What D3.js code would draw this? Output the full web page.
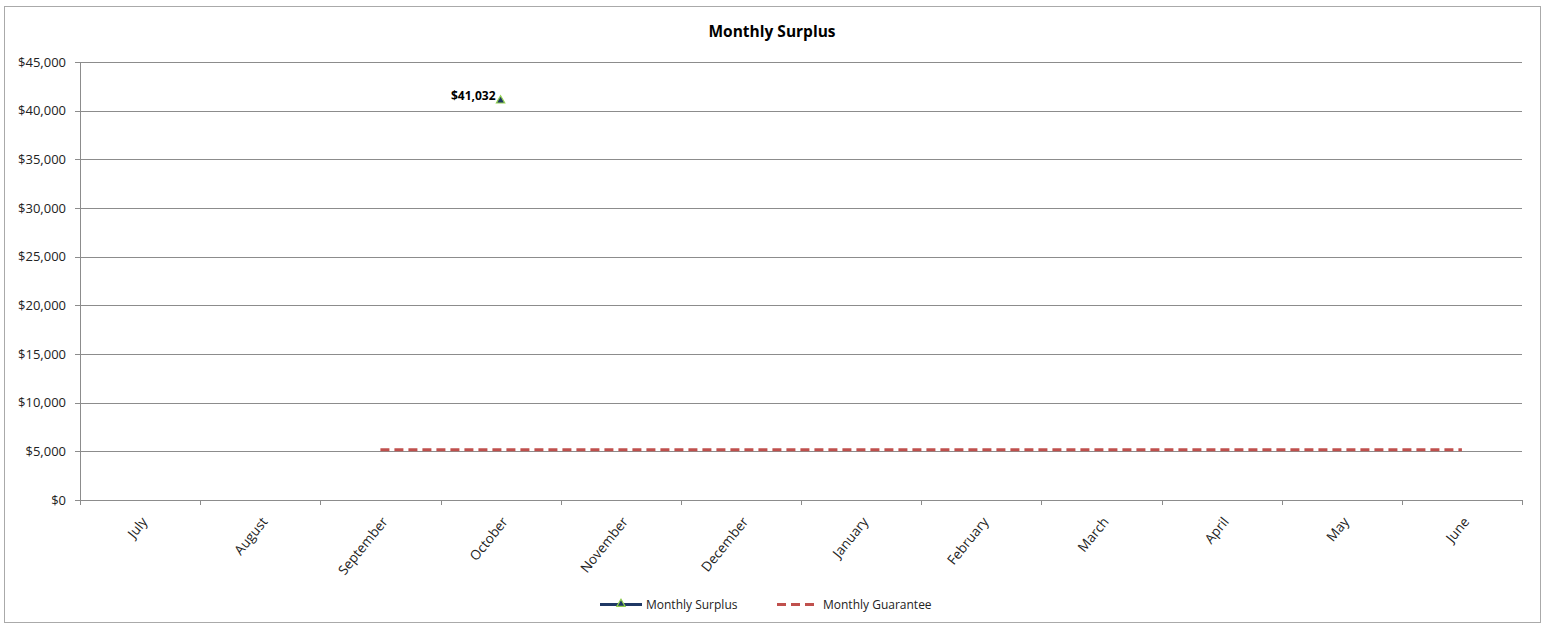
<!DOCTYPE html>
<html>
<head>
<meta charset="utf-8">
<script src="https://cdn.jsdelivr.net/npm/d3@7"></script>
<style>
  body { margin: 0; background: #fff; }
  text { font-family: "Open Sans", "Liberation Sans", sans-serif; }
</style>
</head>
<body>
<svg id="chart" width="1547" height="625"></svg>
<script>
// chart data
const months = ["July", "August", "September", "October", "November", "December",
  "January", "February", "March", "April", "May", "June"];
const surplus = [null, null, null, 41032, null, null, null, null, null, null, null, null];
const guarantee = [null, null, 5150, 5150, 5150, 5150, 5150, 5150, 5150, 5150, 5150, 5150];
const yTicks = [0, 5000, 10000, 15000, 20000, 25000, 30000, 35000, 40000, 45000];

const svg = d3.select("#chart");
const margin = {left: 80, right: 25, top: 62, bottom: 125};
const W = 1547, H = 625;

// outer border
svg.append("rect")
  .attr("x", 4.5).attr("y", 6.5).attr("width", 1536).attr("height", 616)
  .attr("fill", "none").attr("stroke", "#aaa").attr("stroke-width", 1);

svg.append("text")
  .attr("x", 772).attr("y", 37)
  .attr("text-anchor", "middle")
  .attr("font-size", 15.5).attr("font-weight", "bold")
  .text("Monthly Surplus");

const x = d3.scaleBand().domain(months)
  .range([margin.left, W - margin.right]);
const y = d3.scaleLinear().domain([0, 45000])
  .range([H - margin.bottom, margin.top]);

const fmt = d3.format("$,");

// gridlines
svg.append("g").selectAll("line")
  .data(yTicks)
  .join("line")
  .attr("x1", margin.left - 5).attr("x2", W - margin.right)
  .attr("y1", d => Math.round(y(d)) + 0.5).attr("y2", d => Math.round(y(d)) + 0.5)
  .attr("stroke", "#8c8c8c").attr("stroke-width", 1);

// y labels
svg.append("g").selectAll("text")
  .data(yTicks)
  .join("text")
  .attr("x", margin.left - 14)
  .attr("y", d => y(d) + 4.5)
  .attr("text-anchor", "end")
  .attr("font-size", 13)
  .attr("fill", "#222")
  .text(d => fmt(d));

// y axis line
svg.append("line")
  .attr("x1", margin.left + 0.5).attr("x2", margin.left + 0.5)
  .attr("y1", margin.top).attr("y2", H - margin.bottom)
  .attr("stroke", "#8c8c8c");

// x tick marks (between categories)
const xt = months.map(m => x(m)).concat([W - margin.right]);
svg.append("g").selectAll("line")
  .data(xt)
  .join("line")
  .attr("x1", d => Math.round(d) + 0.5).attr("x2", d => Math.round(d) + 0.5)
  .attr("y1", H - margin.bottom).attr("y2", H - margin.bottom + 5)
  .attr("stroke", "#8c8c8c");

// x labels
svg.append("g").selectAll("text")
  .data(months)
  .join("text")
  .attr("transform", d => `translate(${x(d) + x.bandwidth() / 2 + 8},${H - margin.bottom + 22}) rotate(-51)`)
  .attr("text-anchor", "end")
  .attr("font-size", 13.5)
  .attr("fill", "#222")
  .text(d => d);

// guarantee line
const gLine = d3.line()
  .defined(d => d[1] != null)
  .x(d => x(d[0]) + x.bandwidth() / 2)
  .y(d => y(d[1]));
svg.append("path")
  .datum(months.map((m, i) => [m, guarantee[i]]))
  .attr("d", gLine)
  .attr("fill", "none")
  .attr("stroke", "#c0504d").attr("stroke-width", 3)
  .attr("stroke-dasharray", "9,5");

// surplus line + markers
svg.append("path")
  .datum(months.map((m, i) => [m, surplus[i]]))
  .attr("d", gLine)
  .attr("fill", "none")
  .attr("stroke", "#1f3864").attr("stroke-width", 3);

const tri = d3.symbol().type(d3.symbolTriangle).size(30);
const pts = months.map((m, i) => [m, surplus[i]]).filter(d => d[1] != null);
svg.append("g").selectAll("path")
  .data(pts)
  .join("path")
  .attr("transform", d => `translate(${x(d[0]) + x.bandwidth() / 2},${y(d[1])})`)
  .attr("d", tri)
  .attr("fill", "#1f3864").attr("stroke", "#92d050").attr("stroke-width", 1.2);

svg.append("g").selectAll("text")
  .data(pts)
  .join("text")
  .attr("x", d => x(d[0]) + x.bandwidth() / 2 - 5)
  .attr("y", d => y(d[1]) - 1)
  .attr("text-anchor", "end")
  .attr("font-size", 12).attr("font-weight", "bold")
  .text(d => fmt(d[1]));

// legend
const lg = svg.append("g");
lg.append("line").attr("x1", 600).attr("x2", 642).attr("y1", 604.5).attr("y2", 604.5)
  .attr("stroke", "#1f3864").attr("stroke-width", 3);
lg.append("path").attr("transform", "translate(621,604)").attr("d", tri)
  .attr("fill", "#1f3864").attr("stroke", "#92d050").attr("stroke-width", 1.2);
lg.append("text").attr("x", 646).attr("y", 609).attr("font-size", 12).attr("fill", "#222")
  .text("Monthly Surplus");
lg.append("line").attr("x1", 777).attr("x2", 817).attr("y1", 604.5).attr("y2", 604.5)
  .attr("stroke", "#c0504d").attr("stroke-width", 3).attr("stroke-dasharray", "9,5");
lg.append("text").attr("x", 823).attr("y", 609).attr("font-size", 12).attr("fill", "#222")
  .text("Monthly Guarantee");
</script>
</body>
</html>
